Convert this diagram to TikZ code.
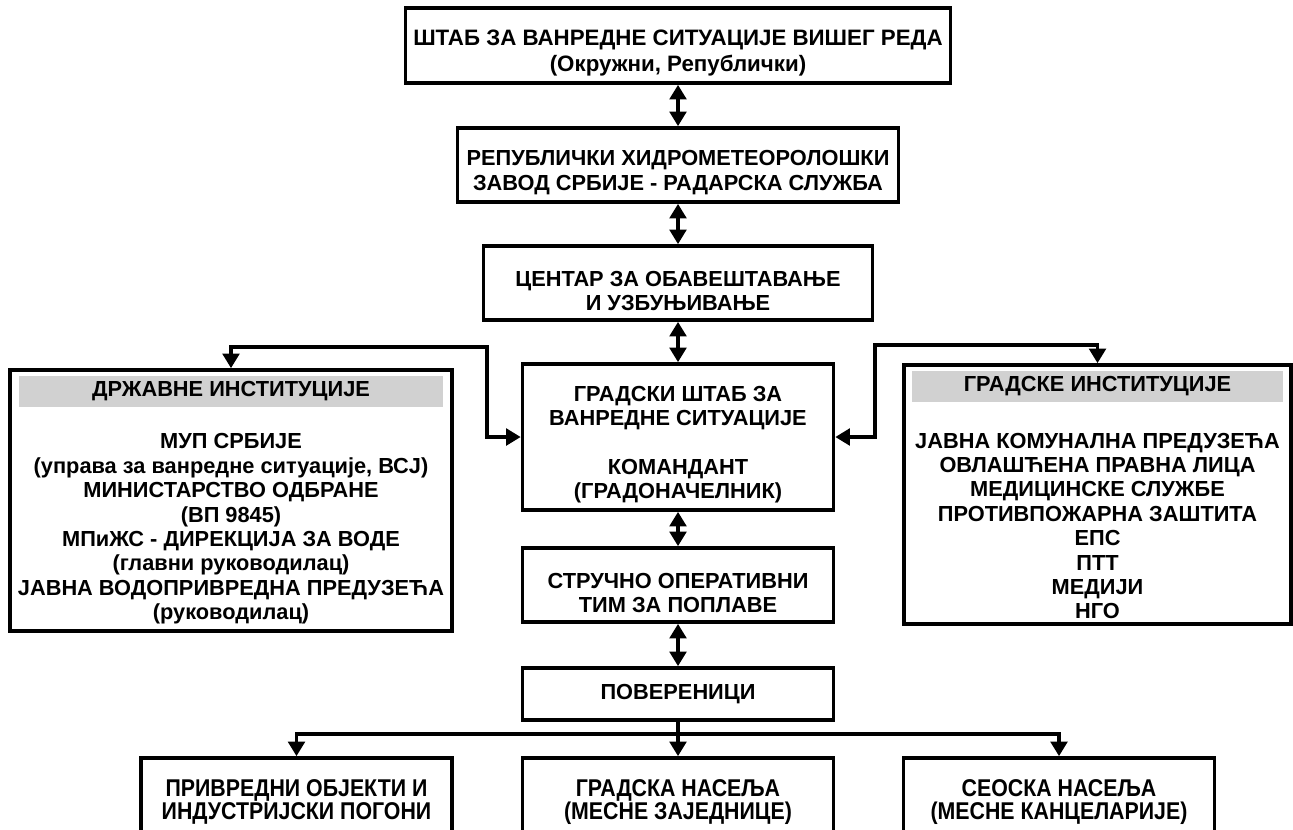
\documentclass[tikz,border=0pt]{standalone}
\usepackage{fontspec}
\setmainfont{Liberation Sans}
\newfontfamily\narrowfont[FakeStretch=0.88]{Liberation Sans}
\usetikzlibrary{arrows.meta,positioning}

\begin{document}
\begin{tikzpicture}[x=0.02cm, y=-0.02cm, line join=miter,
    font=\fontsize{12.4}{13.9}\selectfont\bfseries,
    box/.style={draw, line width=2.1pt, align=center, inner sep=0pt, minimum height=1.48cm},
    bar/.style={fill=black!18, minimum height=0.62cm, inner sep=0pt},
    link/.style={line width=2pt, {Triangle[length=0.29cm,width=0.33cm]}-{Triangle[length=0.29cm,width=0.33cm]}},
    down/.style={line width=2pt, -{Triangle[length=0.29cm,width=0.33cm]}}]
  \useasboundingbox (0,0) rectangle (1293,829);
  \def\xc{678} % sredina srednje kolone
  \def\lift{\rule{0pt}{17.5pt}} % spusta tekst u kutiji
  % srednja kolona
  \node[box, minimum width=10.9cm, minimum height=1.5cm, font=\fontsize{12.7}{14.6}\selectfont\bfseries] (hq) at (\xc,45.5) {\lift ШТАБ ЗА ВАНРЕДНЕ СИТУАЦИЈЕ ВИШЕГ РЕДА\\(Окружни, Републички)};
  \node[box, minimum width=8.82cm] (rhmz) at (\xc,165) {\lift РЕПУБЛИЧКИ ХИДРОМЕТЕОРОЛОШКИ\\ЗАВОД СРБИЈЕ - РАДАРСКА СЛУЖБА};
  \node[box, minimum width=7.78cm] (cob) at (\xc,283) {\lift ЦЕНТАР ЗА ОБАВЕШТАВАЊЕ\\И УЗБУЊИВАЊЕ};
  \node[box, minimum width=6.22cm, minimum height=2.92cm] (gss) at (\xc,437) {\lift ГРАДСКИ ШТАБ ЗА\\ВАНРЕДНЕ СИТУАЦИЈЕ\\[13.9pt]КОМАНДАНТ\\(ГРАДОНАЧЕЛНИК)};
  \node[box, minimum width=6.22cm] (struc) at (\xc,585) {\lift СТРУЧНО ОПЕРАТИВНИ\\ТИМ ЗА ПОПЛАВЕ};
  \node[box, minimum width=6.22cm, minimum height=1.04cm] (pov) at (\xc,694) {ПОВЕРЕНИЦИ};
  % drzavne institucije
  \node[box, minimum width=8.84cm, minimum height=5.22cm] (drz) at (231,500.5) {};
  \node[bar, minimum width=8.5cm, below=0.15cm of drz.north] (drzh) {ДРЖАВНЕ ИНСТИТУЦИЈЕ};
  \node[align=center] (drzt) at (231,529) {МУП СРБИЈЕ\\(управа за ванредне ситуације, ВСЈ)\\МИНИСТАРСТВО ОДБРАНЕ\\(ВП 9845)\\МПиЖС - ДИРЕКЦИЈА ЗА ВОДЕ\\(главни руководилац)\\ЈАВНА ВОДОПРИВРЕДНА ПРЕДУЗЕЋА\\(руководилац)};
  % gradske institucije
  \node[box, minimum width=7.74cm, minimum height=5.18cm] (grd) at (1097.5,494.5) {};
  \node[bar, minimum width=7.44cm, below=0.15cm of grd.north] (grdh) {ГРАДСКЕ ИНСТИТУЦИЈЕ};
  \node[align=center] (grdt) at (1097.5,526) {ЈАВНА КОМУНАЛНА ПРЕДУЗЕЋА\\ОВЛАШЋЕНА ПРАВНА ЛИЦА\\МЕДИЦИНСКЕ СЛУЖБЕ\\ПРОТИВПОЖАРНА ЗАШТИТА\\ЕПС\\ПТТ\\МЕДИЈИ\\НГО};
  % donji red
  \begin{scope}[font=\narrowfont\fontsize{13.8}{13.5}\selectfont\bfseries]
    \node[box, minimum width=6.22cm] (blft) at (296.5,795) {\lift ПРИВРЕДНИ ОБЈЕКТИ И\\ИНДУСТРИЈСКИ ПОГОНИ};
    \node[box, minimum width=6.22cm] (bmid) at (\xc,795) {\lift ГРАДСКА НАСЕЉА\\(МЕСНЕ ЗАЈЕДНИЦЕ)};
    \node[box, minimum width=6.22cm] (brgt) at (1059,795) {\lift СЕОСКА НАСЕЉА\\(МЕСНЕ КАНЦЕЛАРИЈЕ)};
  \end{scope}
  % veze
  \foreach \a/\b in {hq/rhmz, rhmz/cob, cob/gss, gss/struc, struc/pov}
    \draw[link] (\a) -- (\b);
  \coordinate (lk) at (487,347);
  \coordinate (rk) at (875,345);
  \draw[link] (drz.north) |- (lk) |- (gss.west);
  \draw[link] (grd.north) |- (rk) |- (gss.east);
  \coordinate (br) at (\xc,734);
  \draw[down] (pov) -- (bmid);
  \draw[down] (br) -| (blft.north);
  \draw[down] (br) -| (brgt.north);
\end{tikzpicture}
\end{document}
